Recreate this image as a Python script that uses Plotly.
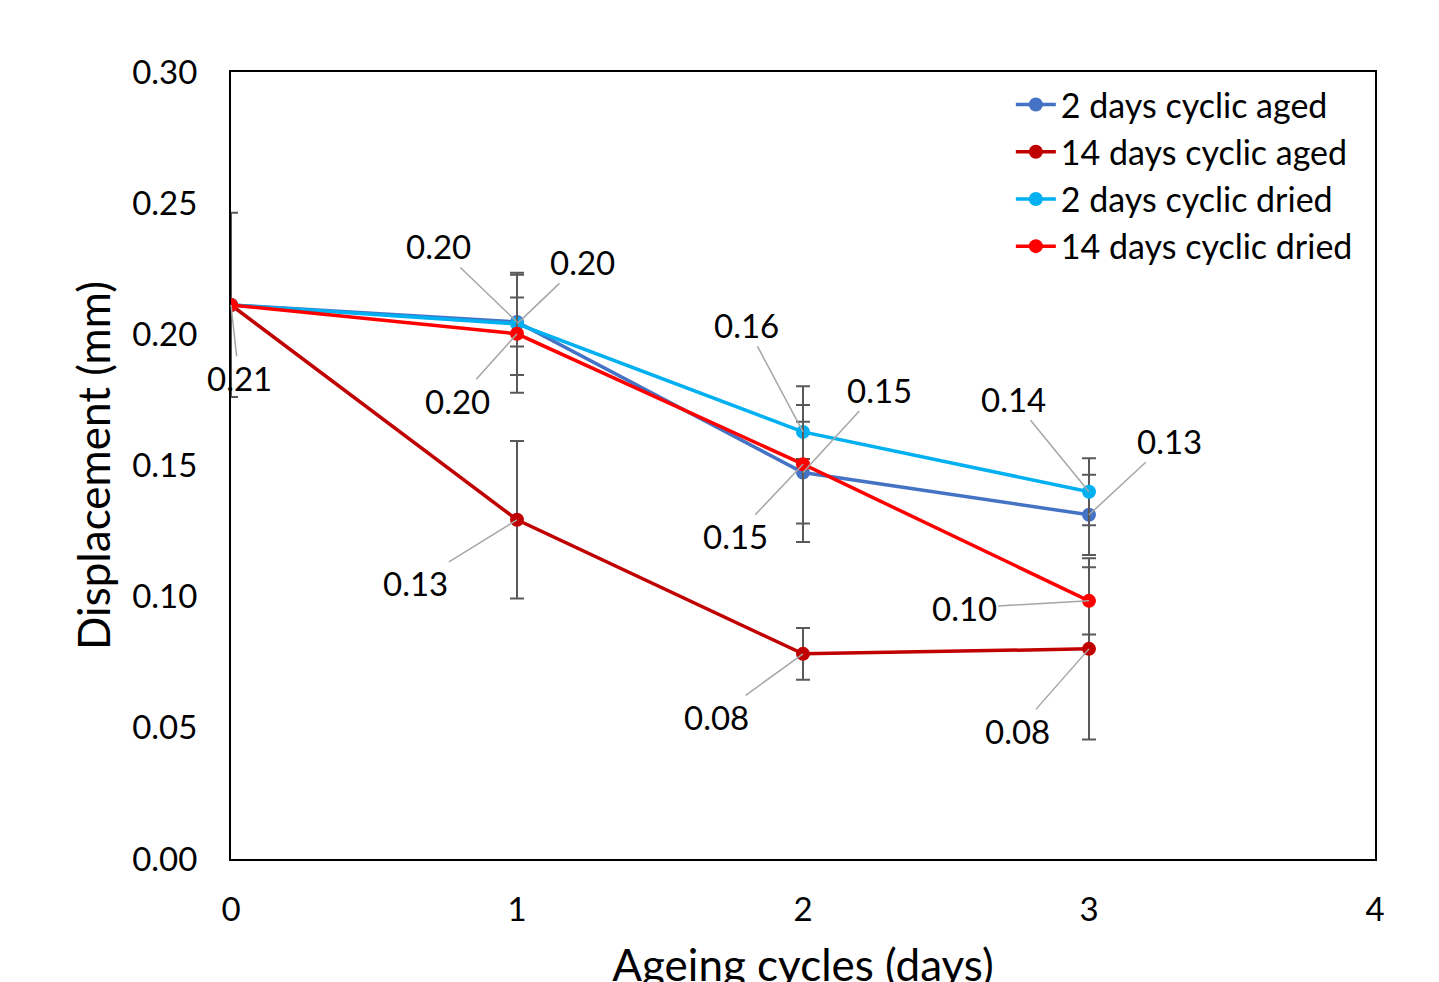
import plotly.graph_objects as go

cycles = [0, 1, 2, 3]

series_names = ["2 days cyclic aged", "14 days cyclic aged", "2 days cyclic dried", "14 days cyclic dried"]
colors = ["#4472C4", "#C00000", "#00B0F0", "#FF0000"]

aged_2 = [0.2112, 0.2047, 0.1473, 0.1312]
aged_14 = [0.2112, 0.1293, 0.0782, 0.0801]
dried_2 = [0.2112, 0.2040, 0.1628, 0.1400]
dried_14 = [0.2112, 0.2002, 0.1505, 0.0984]

err_aged_2 = [0.0, 0.0093, 0.0194, 0.0153]
err_aged_14 = [0.0, 0.0300, 0.0099, 0.0345]
err_dried_2 = [0.0, 0.0195, 0.0103, 0.0128]
err_dried_14 = [0.0351, 0.0225, 0.0297, 0.0128]

values = [aged_2, aged_14, dried_2, dried_14]
errors = [err_aged_2, err_aged_14, err_dried_2, err_dried_14]

# label offsets (pixels) for data labels: (series index, point index, ax, ay)
label_offsets = [
    (3, 0, 8, 73),
    (0, 1, -79, -76),
    (2, 1, 65, -62),
    (3, 1, -60, 67),
    (1, 1, -102, 63),
    (2, 2, -57, -107),
    (0, 2, 76, -83),
    (3, 2, -68, 72),
    (1, 2, -87, 63),
    (2, 3, -76, -93),
    (0, 3, 80, -74),
    (3, 3, -125, 7),
    (1, 3, -72, 82),
]

FONT = "Lato, 'Open Sans', sans-serif"

fig = go.Figure()
for name, col, ys, es in zip(series_names, colors, values, errors):
    fig.add_trace(go.Scatter(
        x=cycles, y=ys, name=name, mode="lines+markers",
        line=dict(color=col, width=3.5),
        marker=dict(color=col, size=14),
        error_y=dict(type="data", array=es, visible=True, color="#595959", thickness=2, width=7),
    ))

for si, pi, ax, ay in label_offsets:
    fig.add_annotation(
        x=cycles[pi], y=values[si][pi], xref="x", yref="y",
        text=f"{values[si][pi]:.2f}", showarrow=True, arrowhead=0,
        arrowwidth=1.5, arrowcolor="#A6A6A6", ax=ax, ay=ay, standoff=0,
        font=dict(family=FONT, size=33, color="black"),
    )

fig.update_layout(
    width=1439, height=982,
    margin=dict(l=223, r=72, t=64, b=131),
    paper_bgcolor="white", plot_bgcolor="white",
    font=dict(family=FONT, size=33, color="black"),
    showlegend=True,
    legend=dict(x=0.985, xanchor="right", y=0.995, yanchor="top", xref="paper", yref="paper",
                bgcolor="rgba(0,0,0,0)", font=dict(size=34), tracegroupgap=0,
                itemwidth=40),
    xaxis=dict(range=[0, 4], dtick=1, tick0=0, showgrid=False, zeroline=False,
               showline=True, linecolor="black", linewidth=2, mirror=True,
               ticks="", ticklabelstandoff=20, automargin=False,
               title=dict(text="Ageing cycles (days)", font=dict(size=44), standoff=24)),
    yaxis=dict(range=[0, 0.30], dtick=0.05, tick0=0, tickformat=".2f", showgrid=False,
               zeroline=False, showline=True, linecolor="black", linewidth=2, mirror=True,
               ticks="", ticklabelstandoff=25, automargin=False,
               title=dict(text="Displacement (mm)", font=dict(size=44), standoff=8)),
)

fig.write_html("out.html")
